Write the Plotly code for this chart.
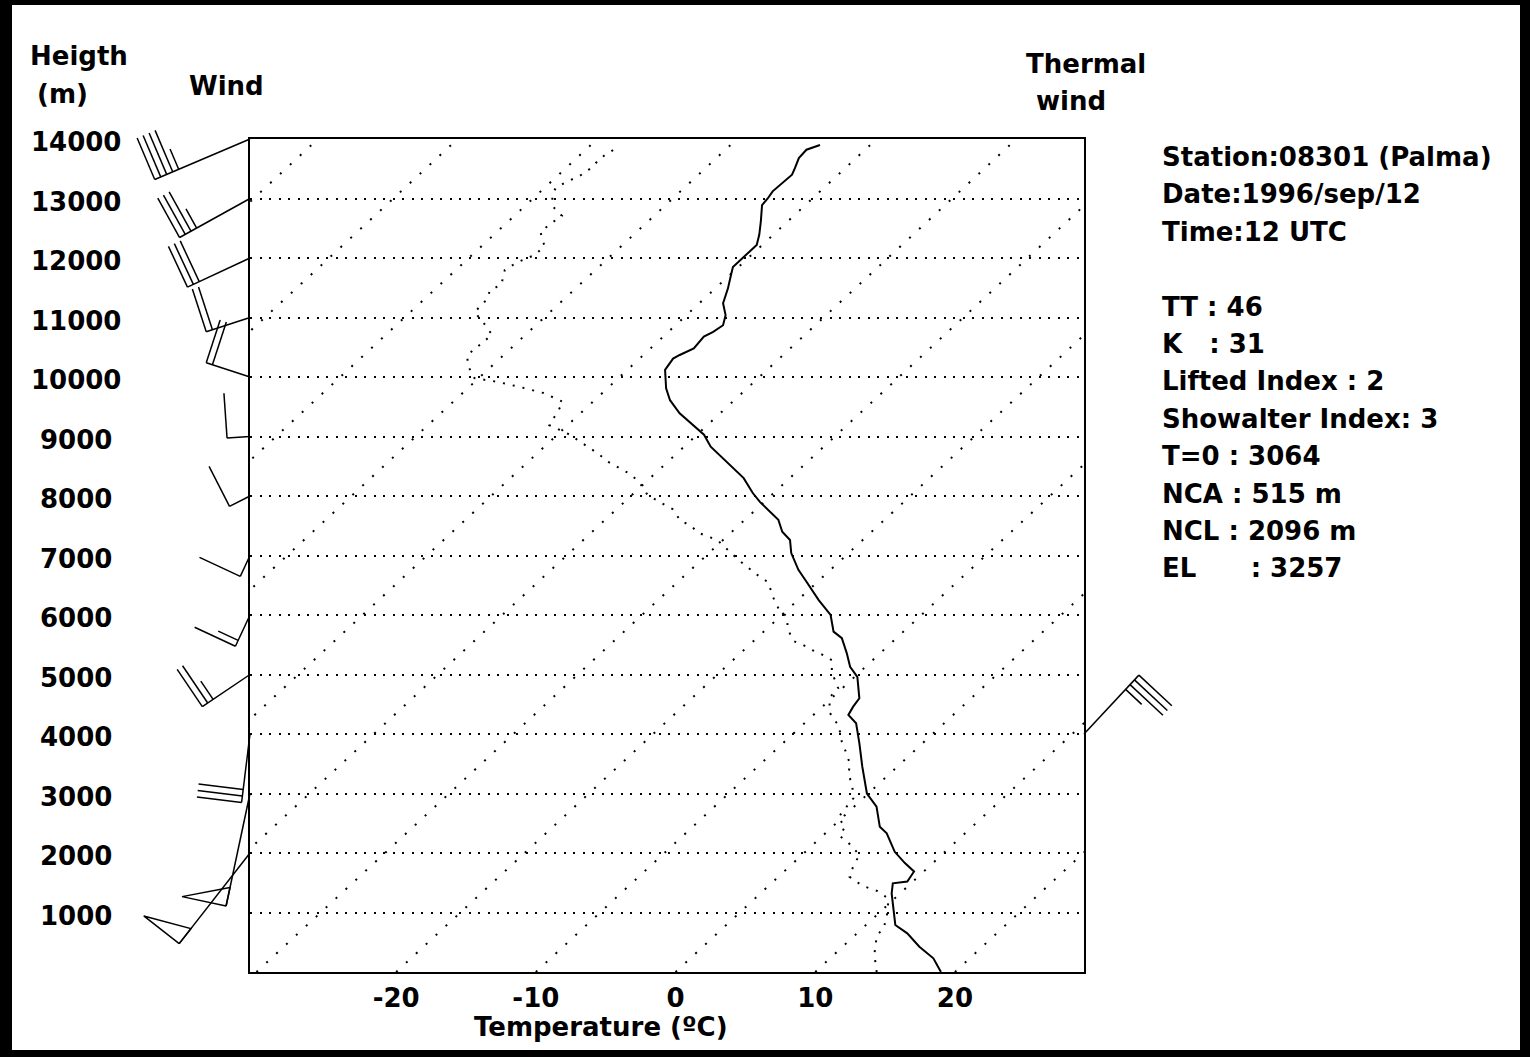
import math
import plotly.graph_objects as go

# ---------------------------------------------------------------
# Radiosonde 08301 (Palma), 1996-09-12 12 UTC
# ---------------------------------------------------------------
# Temperature profile: height (m) and temperature (deg C)
TEMP_HEIGHT_M = [0, 230, 425, 650, 790, 1100, 1320, 1490, 1520, 1690,
                 1830, 2020, 2330, 2440, 2780, 3000, 3450, 3840, 4180, 4320,
                 4460, 4600, 4960, 5130, 5360, 5610, 5720, 6000, 6250, 6560,
                 6760, 7040, 7260, 7400, 7600, 7900, 8050, 8300, 8690, 8830,
                 9030, 9190, 9390, 9610, 9810, 10120, 10310, 10370, 10480, 10680,
                 10760, 10870, 11040, 11240, 11490, 11710, 11850, 12110, 12220, 12390,
                 12610, 12890, 13000, 13120, 13400, 13510, 13680, 13820, 13900]
TEMP_C = [19.0, 17.4, 15.5, 13.6, 12.1, 10.5, 9.4, 8.7, 9.6, 9.3,
          8.0, 6.4, 4.4, 3.4, 1.6, -0.1, -2.5, -4.5, -6.3, -7.5,
          -7.8, -8.0, -9.8, -11.1, -12.4, -13.9, -15.0, -16.5, -18.5, -20.8,
          -22.3, -24.1, -25.2, -26.4, -27.6, -30.3, -31.5, -33.3, -36.8, -38.1,
          -39.5, -41.0, -42.9, -44.6, -45.8, -47.3, -47.6, -47.4, -46.9, -47.1,
          -46.8, -46.6, -47.2, -48.3, -49.1, -49.9, -50.4, -50.4, -50.4, -51.0,
          -51.9, -53.1, -53.2, -53.4, -53.3, -53.6, -54.1, -54.2, -53.6]

# Dew point profile: height (m) and dew point (deg C)
DEW_HEIGHT_M = [0, 290, 610, 740, 940, 1230, 1360, 1450, 1600, 1760,
                1970, 2170, 2290, 2450, 2590, 2760, 2920, 3140, 3340, 3480,
                3680, 3870, 4130, 4370, 4620, 4770, 5040, 5240, 5340, 5410,
                5500, 5560, 5750, 5970, 6120, 6300, 6550, 6640, 6770, 6890,
                7040, 7260, 7380, 7510, 7580, 7780, 7900, 8020, 8250, 8390,
                8560, 8720, 8910, 9030, 9110, 9190, 9580, 9730, 9820, 9920,
                9980, 10200, 10370, 10520, 10710, 10920, 11090, 11310, 11460, 11550,
                11800, 11930, 12050, 12200, 12440, 12570, 12710, 12870, 13060, 13180,
                13280, 13380, 13510, 13680, 13820]
DEW_C = [14.4, 12.9, 11.6, 11.5, 10.8, 9.6, 8.2, 6.7, 5.1, 4.6,
         4.1, 2.4, 1.2, 0.9, -0.3, -0.5, -0.7, -1.8, -3.0, -3.5,
         -4.7, -5.9, -7.3, -9.1, -10.2, -10.3, -12.0, -12.9, -14.1, -15.1,
         -16.2, -17.1, -18.4, -19.5, -20.8, -22.0, -23.5, -24.5, -25.8, -27.0,
         -28.4, -30.4, -32.3, -33.5, -34.5, -36.0, -37.5, -38.9, -40.6, -42.0,
         -44.1, -45.7, -47.8, -49.1, -50.2, -51.3, -52.1, -54.2, -56.1, -58.4,
         -60.3, -61.8, -62.6, -62.5, -62.4, -64.0, -65.4, -65.5, -66.0, -65.6,
         -66.5, -66.2, -65.5, -65.5, -66.9, -66.8, -66.6, -68.0, -68.9, -69.2,
         -68.9, -68.4, -68.2, -68.3, -68.0]

# Winds: level (m), direction (deg, from), speed (kt)
WIND_HEIGHT_M = [2000, 3000, 4000, 5000, 6000, 7000, 8000,
                 9000, 10000, 11000, 12000, 13000, 14000]
WIND_DIR_DEG = [218, 192, 187, 236, 205, 205, 243,
                266, 288, 252, 245, 241, 247]
WIND_SPEED_KT = [50, 50, 30, 25, 15, 10, 10,
                 10, 20, 20, 30, 35, 45]

# Thermal wind
THERMAL_HEIGHT_M = 4000
THERMAL_DIR_DEG = 43
THERMAL_SPEED_KT = 35

# Axis labels
ISOTHERMS_C = list(range(-90, 30, 10))
TEMP_TICKS_C = [-20, -10, 0, 10, 20]
TEMP_TICK_TEXT = ["-20", "-10", "0", "10", "20"]
HEIGHT_LABELS_M = [1000, 2000, 3000, 4000, 5000, 6000, 7000,
                   8000, 9000, 10000, 11000, 12000, 13000, 14000]

INFO_LINES = [
    "Station:08301 (Palma)",
    "Date:1996/sep/12",
    "Time:12 UTC",
    "",
    "TT : 46",
    "K\u00a0\u00a0\u00a0: 31",
    "Lifted Index : 2",
    "Showalter Index: 3",
    "T=0 : 3064",
    "NCA : 515 m",
    "NCL : 2096 m",
    "EL\u00a0\u00a0\u00a0\u00a0\u00a0\u00a0: 3257",
]

# ---------------------------------------------------------------
# Geometry of the diagram
# ---------------------------------------------------------------
W, H = 1530, 1057
FRAME_L, FRAME_R, FRAME_T, FRAME_B = 250, 1084, 139, 972
T_RANGE = [-30.46, 29.24]
Z_RANGE = [0, 14000]
SKEW_C_PER_KM = 4.6          # isotherm tilt of the skew-T
M_PER_PX = (Z_RANGE[1] - Z_RANGE[0]) / (FRAME_B - FRAME_T)

X_DOMAIN = [FRAME_L / W, FRAME_R / W]
Y_DOMAIN = [1 - FRAME_B / H, 1 - FRAME_T / H]
# full-figure overlay: x in pixels, y in metres with the same scale
Y2_RANGE = [Z_RANGE[0] - (H - FRAME_B) * M_PER_PX, Z_RANGE[1] + FRAME_T * M_PER_PX]

DOTS_GRID = "2px,7.5px"
DOTS_ISO = "2px,11.5px"
DOTS_DEW = "2px,8px"

FONT = dict(family="DejaVu Sans", size=26, color="black", weight="bold")


def skewed(temps, heights):
    return [t + SKEW_C_PER_KM * z / 1000.0 for t, z in zip(temps, heights)]


# Wind barb drawing (staff length grows with speed)
STAFF_PX_PER_KT = 2.3
FEATHER_PX = 45
HALF_FEATHER_PX = 22
FEATHER_STEP_PX = 6.5
PENNANT_BASE_PX = 19


def barb(base_x_px, height_m, direction, speed, xs, ys):
    d = math.radians(direction)
    ux, uy = math.sin(d), -math.cos(d)      # screen direction, y downwards
    qx, qy = -uy, ux                        # feathers on the clockwise side
    length = STAFF_PX_PER_KT * speed

    def add(points):
        for sx, sy in points:
            xs.append(base_x_px + sx)
            ys.append(height_m - sy * M_PER_PX)
        xs.append(None)
        ys.append(None)

    add([(0, 0), (length * ux, length * uy)])
    rounded = int(5 * round(speed / 5.0))
    n_pen, rest = divmod(rounded, 50)
    n_full, rest = divmod(rest, 10)
    n_half = rest // 5
    pos = length
    for _ in range(n_pen):
        a = (pos * ux, pos * uy)
        b = ((pos - PENNANT_BASE_PX) * ux, (pos - PENNANT_BASE_PX) * uy)
        apex = (a[0] + FEATHER_PX * qx, a[1] + FEATHER_PX * qy)
        add([a, apex, b, a])
        pos -= PENNANT_BASE_PX + FEATHER_STEP_PX
    for _ in range(n_full):
        a = (pos * ux, pos * uy)
        add([a, (a[0] + FEATHER_PX * qx, a[1] + FEATHER_PX * qy)])
        pos -= FEATHER_STEP_PX
    for _ in range(n_half):
        a = (pos * ux, pos * uy)
        add([a, (a[0] + HALF_FEATHER_PX * qx, a[1] + HALF_FEATHER_PX * qy)])
        pos -= FEATHER_STEP_PX


fig = go.Figure()

# isotherms
iso_x, iso_y = [], []
for t0 in ISOTHERMS_C:
    iso_x += skewed([t0, t0], Z_RANGE) + [None]
    iso_y += Z_RANGE + [None]
fig.add_trace(go.Scatter(x=iso_x, y=iso_y, mode="lines", hoverinfo="skip",
                         line=dict(color="black", width=2, dash=DOTS_ISO),
                         showlegend=False))

# dew point
fig.add_trace(go.Scatter(x=skewed(DEW_C, DEW_HEIGHT_M), y=DEW_HEIGHT_M,
                         mode="lines", name="Dew point",
                         line=dict(color="black", width=2, dash=DOTS_DEW),
                         showlegend=False))

# temperature
fig.add_trace(go.Scatter(x=skewed(TEMP_C, TEMP_HEIGHT_M), y=TEMP_HEIGHT_M,
                         mode="lines", name="Temperature",
                         line=dict(color="black", width=2),
                         showlegend=False))

# wind barbs (left of the frame) and thermal wind (right of the frame)
bx, by = [], []
for z, dd, ff in zip(WIND_HEIGHT_M, WIND_DIR_DEG, WIND_SPEED_KT):
    barb(FRAME_L, z, dd, ff, bx, by)
barb(FRAME_R, THERMAL_HEIGHT_M, THERMAL_DIR_DEG, THERMAL_SPEED_KT, bx, by)
fig.add_trace(go.Scatter(x=bx, y=by, xaxis="x2", yaxis="y2", mode="lines",
                         hoverinfo="skip", line=dict(color="black", width=1.5),
                         showlegend=False))

annotations = []
for h in HEIGHT_LABELS_M:
    annotations.append(dict(text=str(h), xref="paper", yref="y", x=76 / W, y=h,
                            yshift=-3, xanchor="center", yanchor="middle",
                            showarrow=False, font=FONT))

header = [("Heigth", 28, 56, "left"), ("(m)", 35, 94, "left"), ("Wind", 187, 86, "left"),
          ("Thermal", 1024, 64, "left"), ("wind", 1034, 101, "left")]
for txt, px, py, anchor in header:
    annotations.append(dict(text=txt, xref="paper", yref="paper", x=px / W, y=1 - py / H,
                            xanchor=anchor, yanchor="middle", showarrow=False, font=FONT))

for i, line in enumerate(INFO_LINES):
    if not line:
        continue
    annotations.append(dict(text=line, xref="paper", yref="paper", x=1160 / W,
                            y=1 - (157 + 37.4 * i) / H, xanchor="left", yanchor="middle",
                            showarrow=False, font=FONT))

annotations.append(dict(text="Temperature (\u00baC)", xref="paper", yref="paper",
                        x=601 / W, y=1 - 1027 / H, xanchor="center", yanchor="middle",
                        showarrow=False, font=FONT))

fig.update_layout(
    width=W, height=H,
    margin=dict(l=0, r=0, t=0, b=0, pad=0),
    paper_bgcolor="black",
    plot_bgcolor="rgba(0,0,0,0)",
    showlegend=False,
    shapes=[dict(type="rect", xref="paper", yref="paper", layer="below",
                 x0=12 / W, x1=1520 / W, y0=1 - 1050 / H, y1=1 - 5 / H,
                 fillcolor="white", line=dict(width=0))],
    annotations=annotations,
    xaxis=dict(domain=X_DOMAIN, range=T_RANGE, showgrid=False, zeroline=False,
               showline=True, mirror=True, linecolor="black", linewidth=2,
               tickmode="array", tickvals=TEMP_TICKS_C, ticktext=TEMP_TICK_TEXT,
               ticks="", tickfont=FONT, ticklabelstandoff=2, fixedrange=True),
    yaxis=dict(domain=Y_DOMAIN, range=Z_RANGE, showgrid=True, gridcolor="black",
               gridwidth=2, griddash=DOTS_GRID, tick0=0, dtick=1000,
               showticklabels=False, ticks="", zeroline=False,
               showline=True, mirror=True, linecolor="black", linewidth=2,
               fixedrange=True),
    xaxis2=dict(domain=[0, 1], range=[0, W], visible=False, anchor="y2",
                fixedrange=True),
    yaxis2=dict(domain=[0, 1], range=Y2_RANGE, visible=False, anchor="x2",
                fixedrange=True),
)

fig.write_html("out.html")
